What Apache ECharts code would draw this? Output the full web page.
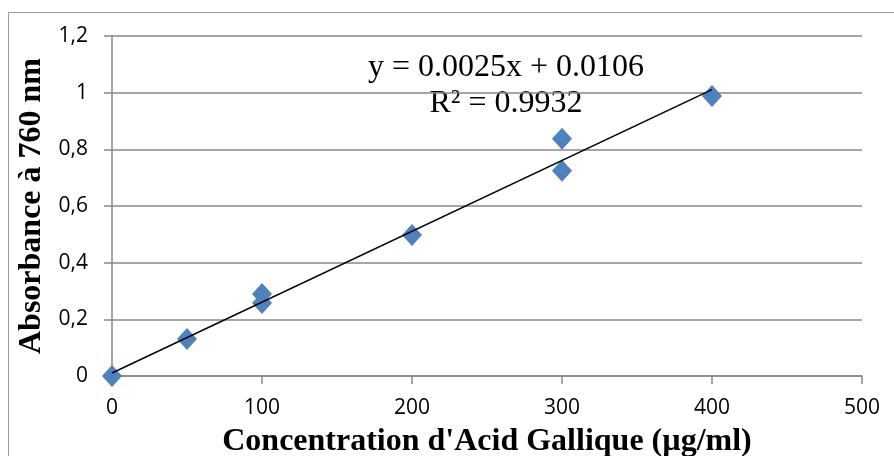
<!DOCTYPE html>
<html>
<head>
<meta charset="utf-8">
<script src="https://cdn.jsdelivr.net/npm/echarts@6/dist/echarts.min.js"></script>
<style>
  html, body { margin: 0; padding: 0; background: #fff; overflow: hidden; }
  #main { width: 894px; height: 456px; }
</style>
</head>
<body>
<div id="main"></div>
<script>
// measured points (concentration, absorbance)
var concentrations = [0, 50, 100, 100, 200, 300, 300, 400];
var absorbances = [0, 0.131, 0.289, 0.258, 0.498, 0.837, 0.724, 0.988];
// trend line end points (y = 0.0025x + 0.0106)
var trendX = [0, 400];
var trendY = [0.0106, 1.0106];
var equationText = 'y = 0.0025x + 0.0106';
var r2Text = 'R² = 0.9932';

var points = concentrations.map(function (c, i) { return [c, absorbances[i]]; });
var trend = trendX.map(function (x, i) { return [x, trendY[i]]; });

var myChart = echarts.init(document.getElementById('main'));
myChart.setOption({
    animation: false,
    grid: { left: 112, right: 32, top: 36, bottom: 80, outerBoundsMode: 'none', containLabel: false },
    xAxis: {
        type: 'value',
        min: 0, max: 500, interval: 100,
        name: "Concentration d'Acid Gallique (µg/ml)",
        nameLocation: 'middle',
        nameGap: 50,
        nameTextStyle: { fontFamily: 'Liberation Serif', fontWeight: 'bold', fontSize: 32, color: '#000' },
        axisLine: { lineStyle: { color: '#888', width: 1.5 } },
        axisTick: { show: true, length: 8, lineStyle: { color: '#888', width: 1.5 } },
        axisLabel: { fontFamily: 'Open Sans', fontSize: 21, color: '#000', margin: 22 },
        splitLine: { show: false }
    },
    yAxis: {
        type: 'value',
        min: 0, max: 1.2, interval: 0.2,
        name: 'Absorbance à 760 nm',
        nameLocation: 'middle',
        nameGap: 63,
        nameTextStyle: { fontFamily: 'Liberation Serif', fontWeight: 'bold', fontSize: 32, color: '#000' },
        axisLine: { show: true, lineStyle: { color: '#888', width: 1.5 } },
        axisTick: { show: true, length: 8, lineStyle: { color: '#888', width: 1.5 } },
        axisLabel: {
            fontFamily: 'Open Sans', fontSize: 21, color: '#000', margin: 24,
            formatter: function (v) { return String(Math.round(v * 10) / 10).replace('.', ','); }
        },
        splitLine: { show: true, lineStyle: { color: '#888', width: 1.5 } }
    },
    graphic: [
        {
            type: 'rect', silent: true, z: -1,
            shape: { x: 8.5, y: 12.5, width: 900, height: 460 },
            style: { fill: 'none', stroke: '#999', lineWidth: 1 }
        },
        {
            type: 'text', silent: true,
            x: 506, y: 68,
            style: { text: equationText, font: '32px "Liberation Serif"', fill: '#000', textAlign: 'center', textVerticalAlign: 'middle' }
        },
        {
            type: 'text', silent: true,
            x: 506, y: 104,
            style: { text: r2Text, font: '32px "Liberation Serif"', fill: '#000', textAlign: 'center', textVerticalAlign: 'middle' }
        }
    ],
    series: [
        {
            type: 'line',
            data: trend,
            symbol: 'none',
            lineStyle: { color: '#000', width: 1.5 },
            z: 3
        },
        {
            type: 'scatter',
            data: points,
            symbol: 'diamond',
            symbolSize: [20, 22],
            itemStyle: { color: '#4F81BD', opacity: 1 },
            z: 2
        }
    ]
});
</script>
</body>
</html>
